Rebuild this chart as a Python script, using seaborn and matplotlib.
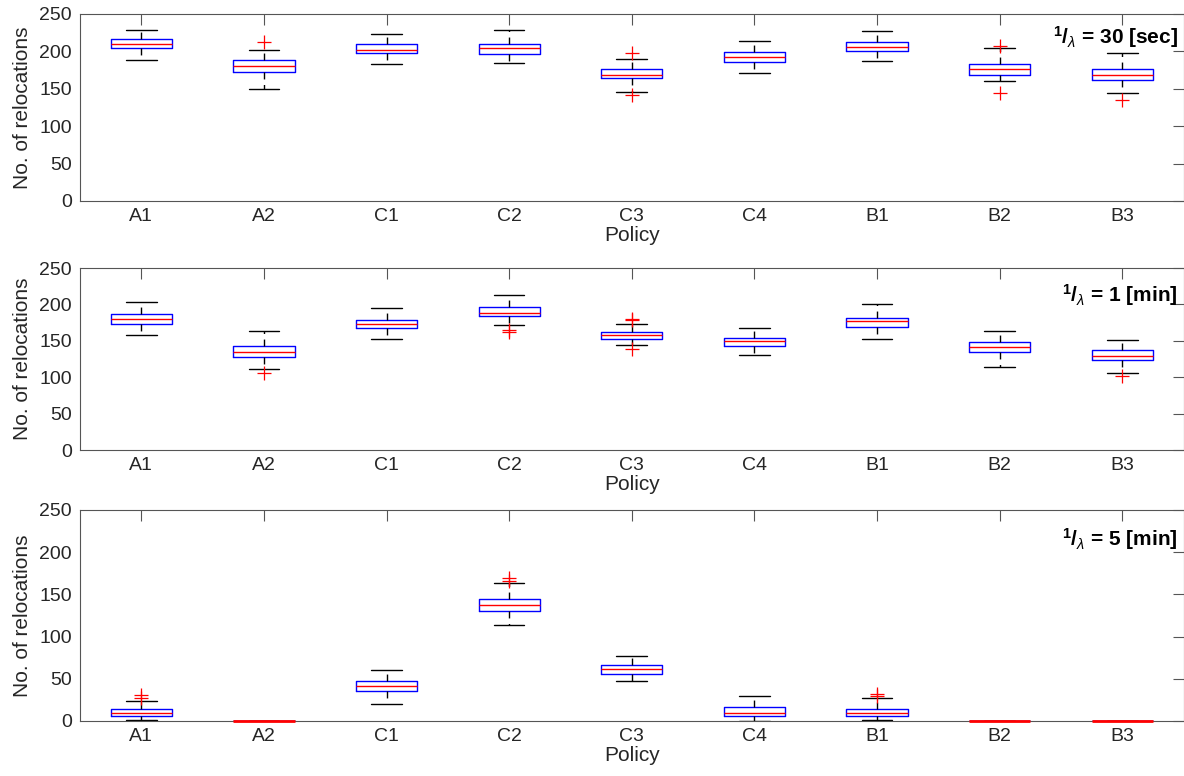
import numpy as np
import pandas as pd
import seaborn as sns
import matplotlib.pyplot as plt

policies = ["A1", "A2", "C1", "C2", "C3", "C4", "B1", "B2", "B3"]

# 1/lambda = 30 sec : whisker low, q1, median, q3, whisker high, outliers
lo_30s = [188, 150, 183, 185, 146, 171, 187, 160, 145]
q1_30s = [204.5, 173, 198, 196, 165, 186, 200, 169, 162]
med_30s = [210, 180, 202, 205, 169, 193, 206, 176, 169]
q3_30s = [217, 188, 210, 210, 177, 199, 213, 183, 177]
hi_30s = [229, 202, 223, 229, 190, 214, 227, 204, 198]
out_30s = {"A2": [212], "C3": [198, 142], "B2": [207, 145], "B3": [135]}

# 1/lambda = 1 min
lo_1m = [157.5, 111, 152.5, 172, 144, 131, 152.5, 114, 106]
q1_1m = [173, 128, 167.5, 183.5, 153, 142.5, 169, 134, 124]
med_1m = [180, 135, 173.5, 188, 157.5, 150, 177, 141.5, 129]
q3_1m = [187, 142.5, 178.5, 196, 162.5, 154, 182, 148.5, 138]
hi_1m = [204, 163, 195, 213, 173.5, 168, 200, 164, 151]
out_1m = {"A2": [106], "C2": [165, 162], "C3": [180, 178, 139], "B3": [102]}

# 1/lambda = 5 min
lo_5m = [1, 0, 20, 114, 47, 0.5, 1, 0, 0]
q1_5m = [6, 0, 35, 130, 56, 6, 5.5, 0, 0]
med_5m = [9, 0, 41, 137, 62, 10, 9, 0, 0]
q3_5m = [14, 0, 47, 144, 66, 16, 14.5, 0, 0]
hi_5m = [24, 0, 60, 164, 77.5, 30, 27, 0, 0]
out_5m = {"A1": [27, 31], "C2": [166, 169], "B1": [30, 32]}

panels = [
    ("30 [sec]", lo_30s, q1_30s, med_30s, q3_30s, hi_30s, out_30s),
    ("1 [min]", lo_1m, q1_1m, med_1m, q3_1m, hi_1m, out_1m),
    ("5 [min]", lo_5m, q1_5m, med_5m, q3_5m, hi_5m, out_5m),
]

sns.set_style("white")
plt.rcParams["font.family"] = ["Liberation Sans", "DejaVu Sans"]
plt.rcParams["mathtext.fontset"] = "custom"
plt.rcParams["mathtext.rm"] = "Liberation Sans"
plt.rcParams["mathtext.it"] = "Liberation Sans:italic"
plt.rcParams["mathtext.bf"] = "Liberation Sans:bold"

AXIS_GREY = "#555555"
TEXT = "#262626"

fig = plt.figure(figsize=(11.84, 7.76), dpi=100)
rects = [
    [0.0676, 0.741, 0.932, 0.241],
    [0.0676, 0.4201, 0.932, 0.2345],
    [0.0676, 0.0709, 0.932, 0.2719],
]
text_y = [0.843, 0.815, 0.832]

for rect, ty, (tag, lo, q1, med, q3, hi, out) in zip(rects, text_y, panels):
    ax = fig.add_axes(rect)

    # five-number summary per policy -> quartiles come out exact with n=5
    box = pd.DataFrame({
        "Policy": np.repeat(policies, 5),
        "value": np.column_stack([lo, q1, med, q3, hi]).ravel(),
    })
    sns.boxplot(
        data=box, x="Policy", y="value", order=policies, ax=ax,
        whis=(0, 100), width=0.5, fill=False, showfliers=False,
        linewidth=1.0,
        boxprops=dict(color="#0000ff"),
        medianprops=dict(color="#ff0000"),
        whiskerprops=dict(color="black", linestyle=(0, (5, 4))),
        capprops=dict(color="black"),
    )
    # keep medians on top; flat boxes (all zero) show as a red bar on the axis
    for ln in ax.lines:
        if ln.get_color() == "#ff0000":
            ln.set_clip_on(False)
            ln.set_zorder(3)
            if np.allclose(ln.get_ydata(), 0):
                ln.set_linewidth(2.0)

    fl = pd.DataFrame({
        "Policy": [p for p, vals in out.items() for v in vals],
        "value": [v for p, vals in out.items() for v in vals],
    })
    sns.stripplot(
        data=fl, x="Policy", y="value", order=policies, ax=ax,
        jitter=False, marker="+", color="#ff0000", size=10, linewidth=0.9,
    )

    ax.set_xlim(-0.5, 8.5)
    ax.set_ylim(0, 250)
    ax.set_yticks(range(0, 251, 50))
    ax.tick_params(axis="both", direction="in", length=8, width=0.8,
                   color=AXIS_GREY, labelcolor=TEXT, labelsize=14,
                   top=True, right=True)
    ax.tick_params(axis="x", pad=5)
    ax.tick_params(axis="y", pad=6)
    for s in ax.spines.values():
        s.set_color(AXIS_GREY)
        s.set_linewidth(0.8)
    ax.set_xlabel("Policy", fontsize=15, color=TEXT, labelpad=1)
    ax.set_ylabel("No. of relocations", fontsize=15, color=TEXT, labelpad=5)

    ax.text(0.995, ty, r"$^{\mathbf{1}}\mathbf{/}_{\lambda}$ = " + tag,
            transform=ax.transAxes, ha="right", va="baseline",
            fontsize=15, fontweight="bold", color="black")

fig.savefig("out.png", dpi=100)
